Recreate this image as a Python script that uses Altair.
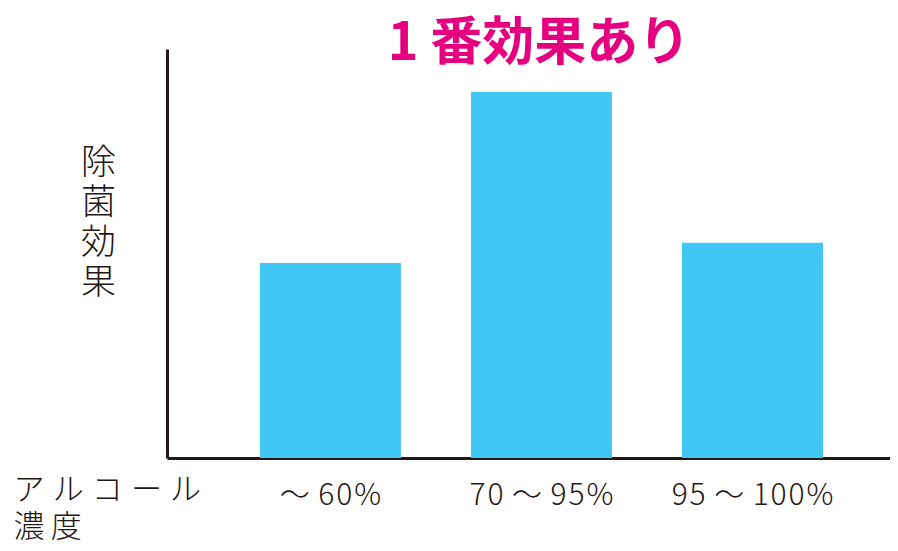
import altair as alt
import pandas as pd

H = "\u200a"  # hair space, used to mimic the wide letter spacing of the original
categories = ["～ 60%", "70 ～ 95%", "95 ～ 100%"]
labels = [
    "～" + " " + H + "6" + H + "0" + H + "%",
    "7" + H + "0" + " " + H + "～" + " " + H + "9" + H + "5" + H + "%",
    "9" + H + "5" + " " + H + "～" + " " + H + "1" + H + "0" + H + "0" + H + "%",
]
values = [47.7, 89.5, 52.6]
title_text = "1 番効果あり"
y_title = ["除", "菌", "効", "果"]
x_title = ["ア\u2009\u200aル\u2009\u200aコ\u2009\u200aー\u2009\u200aル", "濃\u2009度"]

FONT = "Noto Sans CJK JP"
INK = "#231815"
BAR = "#41C7F3"
PINK = "#E4007F"

df = pd.DataFrame({"cat": labels, "val": values})
title_df = pd.DataFrame({"t": [title_text]})

bars = alt.Chart(df).mark_bar(color=BAR).encode(
    x=alt.X(
        "cat:N",
        sort=labels,
        scale=alt.Scale(paddingInner=0.332, paddingOuter=0.379, align=0.581),
        axis=alt.Axis(
            title=x_title,
            labelAngle=0,
            ticks=False,
            tickSize=0,
            grid=False,
            domainColor=INK,
            domainWidth=3,
            labelFont=FONT,
            labelFontSize=30,
            labelFontWeight=300,
            labelColor=INK,
            labelBaseline="alphabetic",
            labelPadding=46,
            labelFlush=False,
            labelOverlap=False,
            titleFont=FONT,
            titleFontSize=31,
            titleFontWeight=300,
            titleColor=INK,
            titleAlign="left",
            titleBaseline="top",
            titleX=-154,
            titleY=17,
            titleLineHeight=37,
        ),
    ),
    y=alt.Y(
        "val:Q",
        scale=alt.Scale(domain=[0, 100], nice=False),
        axis=alt.Axis(
            title=y_title,
            ticks=False,
            labels=False,
            grid=False,
            domainColor=INK,
            domainWidth=3,
            titleFont=FONT,
            titleFontSize=35,
            titleFontWeight=300,
            titleColor=INK,
            titleAngle=0,
            titleAlign="center",
            titleBaseline="top",
            titleX=-69,
            titleY=96,
            titleLineHeight=40,
        ),
    ),
)

title = alt.Chart(title_df).mark_text(
    font=FONT, fontSize=52, fontWeight="bold", color=PINK,
    align="center", baseline="alphabetic",
).encode(text="t:N", x=alt.value(372), y=alt.value(11))

chart = alt.layer(bars, title).properties(
    width=723,
    height=409,
    padding={"left": 159, "top": 41, "right": 0, "bottom": 85},
    autosize=alt.AutoSizeParams(type="none"),
).configure_view(stroke=None)

chart.save("out.html", embed_options={"renderer": "svg", "actions": False})
